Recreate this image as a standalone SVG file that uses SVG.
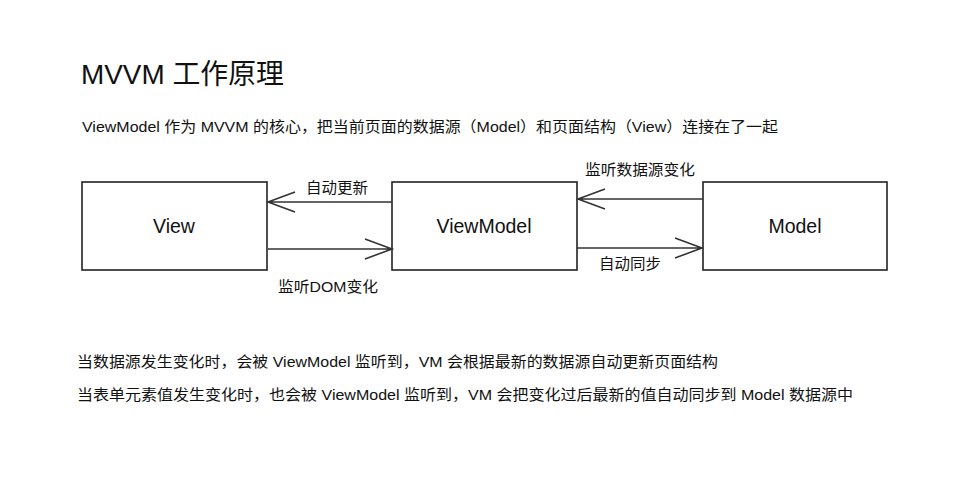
<svg xmlns="http://www.w3.org/2000/svg" width="978" height="487" viewBox="0 0 978 487">
<style>
.box{fill:#fff;stroke:#222;stroke-width:1.6}
.ln{fill:none;stroke:#333;stroke-width:1.6}
.t{font-family:"Liberation Sans","Noto Sans CJK SC",sans-serif;fill:#111}
.lbl{font-size:19.5px;text-anchor:middle}
.s{font-size:15px}
</style>
<rect width="978" height="487" fill="#fff"/>
<text class="t" x="81" y="84" font-size="28" textLength="203" lengthAdjust="spacingAndGlyphs">MVVM 工作原理</text>
<text class="t s" x="82" y="132" textLength="696" lengthAdjust="spacingAndGlyphs">ViewModel 作为 MVVM 的核心，把当前页面的数据源（Model）和页面结构（View）连接在了一起</text>
<g id="view"><rect class="box" x="82" y="182" width="185" height="88"/><text class="t lbl" x="174" y="233">View</text></g>
<g id="viewmodel"><rect class="box" x="392" y="182" width="185" height="88"/><text class="t lbl" x="484" y="233">ViewModel</text></g>
<g id="model"><rect class="box" x="703" y="182" width="184" height="88"/><text class="t lbl" x="795" y="233">Model</text></g>
<g id="connectors">
<path class="ln" d="M392 202H268M295 192L268 202L295 212"/>
<path class="ln" d="M268 249H392M365 239L392 249L365 259"/>
<path class="ln" d="M703 199H578M605 189L578 199L605 209"/>
<path class="ln" d="M577 248H702M675 238L702 248L675 258"/>
<text class="t s" x="306" y="193" textLength="62" lengthAdjust="spacingAndGlyphs">自动更新</text>
<text class="t s" x="278" y="292" textLength="100" lengthAdjust="spacingAndGlyphs">监听DOM变化</text>
<text class="t s" x="585" y="175" textLength="110" lengthAdjust="spacingAndGlyphs">监听数据源变化</text>
<text class="t s" x="599" y="269" textLength="62" lengthAdjust="spacingAndGlyphs">自动同步</text>
</g>
<text class="t s" x="77" y="367" textLength="641" lengthAdjust="spacingAndGlyphs">当数据源发生变化时，会被 ViewModel 监听到，VM 会根据最新的数据源自动更新页面结构</text>
<text class="t s" x="77" y="400" textLength="776" lengthAdjust="spacingAndGlyphs">当表单元素值发生变化时，也会被 ViewModel 监听到，VM 会把变化过后最新的值自动同步到 Model 数据源中</text>
</svg>
